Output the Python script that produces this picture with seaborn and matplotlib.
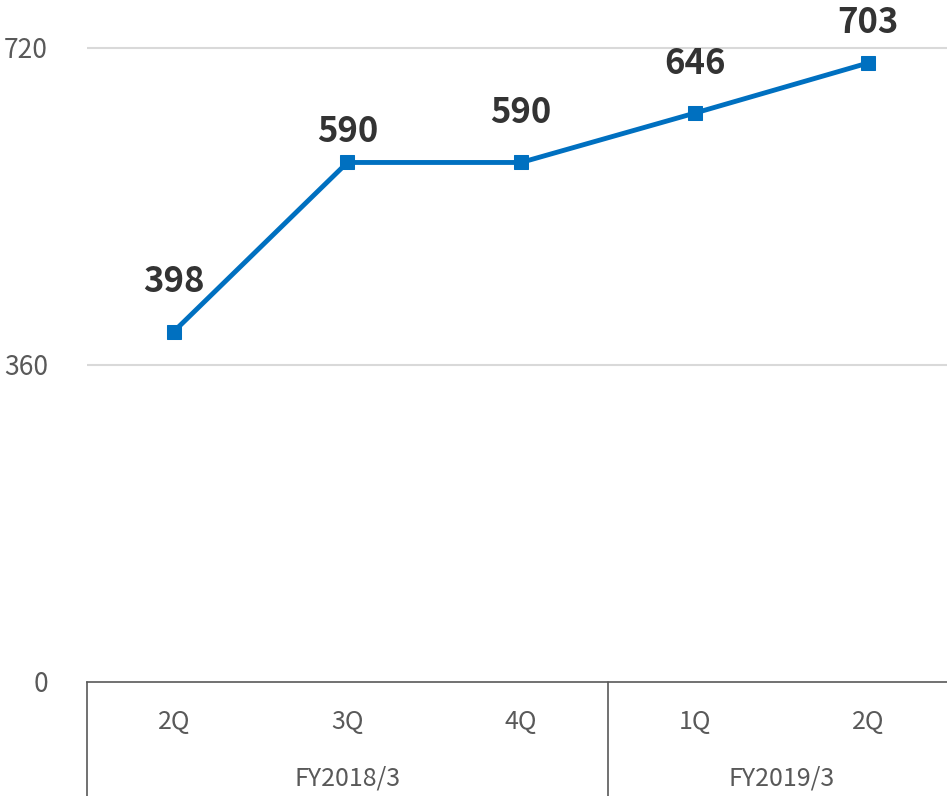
import matplotlib.pyplot as plt
import matplotlib.transforms as mtransforms
import pandas as pd
import seaborn as sns

# values
quarters = ['2Q', '3Q', '4Q', '1Q', '2Q']
fiscal_years = ['FY2018/3', 'FY2018/3', 'FY2018/3', 'FY2019/3', 'FY2019/3']
values = [398, 590, 590, 646, 703]
y_ticks = [0, 360, 720]

df = pd.DataFrame({'pos': range(len(values)), 'quarter': quarters,
                   'fy': fiscal_years, 'value': values})

sns.set_theme(style="white")
plt.rcParams['font.family'] = ['Noto Sans CJK JP', 'DejaVu Sans']

W, H = 947, 796
fig = plt.figure(figsize=(W / 100, H / 100), dpi=100)
ax = fig.add_axes([87 / W, (H - 682) / H, 868 / W, 682 / H])

line_color = '#0070C0'
sns.lineplot(data=df, x='pos', y='value', ax=ax, color=line_color, linewidth=3.5,
             marker='s', markersize=10.5, markeredgecolor=line_color, sort=False)

ax.set_xlim(-0.5, len(values) - 0.5)
ax.set_ylim(0, 720 * 682 / 634)
ax.set_yticks(y_ticks)
ax.set_yticklabels([str(v) for v in y_ticks], fontsize=19, color='#595959')
ax.tick_params(axis='y', length=0, pad=28)
ax.set_xticks([])
ax.set_xlabel('')
ax.set_ylabel('')
for s in ['top', 'right', 'left']:
    ax.spines[s].set_visible(False)
ax.spines['bottom'].set_color('#595959')
ax.spines['bottom'].set_linewidth(1.2)

for v in y_ticks[1:]:
    ax.axhline(v, color='#D9D9D9', linewidth=1.5, zorder=0)

# data labels (offsets in points, like Excel's placement)
label_offsets = [36, 22, 36, 36, 29]
for i, row in df.iterrows():
    ax.annotate(str(row['value']), (row['pos'], row['value']),
                xytext=(0, label_offsets[i]), textcoords='offset points',
                ha='center', va='center', fontsize=25, fontweight='bold',
                color='#333333')

# two-level category axis
trans = mtransforms.blended_transform_factory(ax.transData, ax.transAxes)
bottom = -(H - 682) / 682
for i, row in df.iterrows():
    ax.text(row['pos'], -40 / 682, row['quarter'], transform=trans,
            ha='center', va='center', fontsize=18, color='#595959')

groups = df.groupby('fy', sort=False)['pos'].agg(['min', 'max'])
edges = [-0.5]
for fy, g in groups.iterrows():
    ax.text((g['min'] + g['max']) / 2, -96 / 682, fy, transform=trans,
            ha='center', va='center', fontsize=18, color='#595959')
    edges.append(g['max'] + 0.5)
for e in edges:
    ax.plot([e, e], [0, bottom], transform=trans, color='#595959',
            linewidth=1.2, clip_on=False)

plt.savefig('out.png', dpi=100)
